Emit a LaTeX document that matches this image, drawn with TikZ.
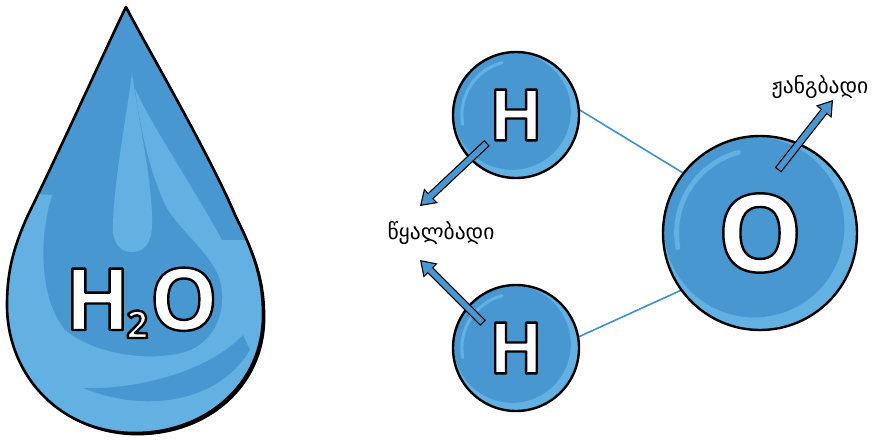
\documentclass[tikz,border=0pt]{standalone}
\usepackage{fontspec}
\usetikzlibrary{arrows.meta,backgrounds}

\newfontfamily\geofont{DejaVu Sans}
\newfontfamily\symfont{Open Sans}

\definecolor{waterblue}{RGB}{72,151,209}
\definecolor{waterlight}{RGB}{98,177,226}
\definecolor{bondblue}{RGB}{62,144,212}

% white letter with a black rim (fill and stroke the glyphs)
\newcommand\outl[1]{\special{pdf:literal direct 0 0 0 RG 2.4 w 1 j 2 Tr}#1\special{pdf:literal direct 0 Tr}}

% outline of the drop
\def\droppath{(126,433) .. controls (140,405) and (210,285) .. (235,225)
  .. controls (255,185) and (263,160) .. (263,125)
  .. controls (263,55) and (205,7) .. (135,7)
  .. controls (60,7) and (7,65) .. (7,135)
  .. controls (7,165) and (12,190) .. (28,225)
  .. controls (60,290) and (112,405) .. cycle}

\begin{document}
\begin{tikzpicture}[x=1pt, y=1pt,
  atom/.style={circle, fill=waterblue, inner sep=0pt},
  rim/.style={draw=black, line width=2.4pt},
  bond/.style={bondblue, line width=1.6pt},
  pointer/.style={black, line width=8pt, -{Triangle[length=15pt, width=20pt, line width=0pt]}},
  pointerfill/.style={waterblue, line width=5.6pt, shorten <=1.2pt, shorten >=2.2pt,
    -{Triangle[length=11.6pt, width=15.5pt, line width=0pt]}},
  element/.style={text=white, inner sep=0pt},
  caption/.style={font=\geofont\fontsize{21.5}{21.5}\selectfont, inner sep=0pt}]
\useasboundingbox (0,0) rectangle (880,440);

% the drop
\begin{scope}[shift={(2.4,-2.4)}]
  \fill[black] \droppath;
\end{scope}
\fill[waterblue] \droppath;
\begin{scope}
  \clip \droppath;
  % streak, right side and bottom
  \fill[waterlight] (135,352) .. controls (148,320) and (192,255) .. (222,200)
    -- (300,200) -- (300,-30) -- (-30,-30) -- (-30,250) -- (52,245)
    .. controls (38,200) and (40,140) .. (65,110)
    .. controls (95,85) and (150,78) .. (185,88)
    .. controls (215,97) and (228,130) .. (220,160)
    .. controls (212,185) and (185,205) .. (168,230)
    .. controls (152,260) and (140,310) .. cycle;
  % middle highlight
  \fill[waterlight] (132,367) .. controls (140,310) and (153,255) .. (152,215)
    .. controls (152,195) and (142,188) .. (132,188)
    .. controls (120,188) and (112,197) .. (113,215)
    .. controls (114,260) and (126,320) .. cycle;
  % darker band near the bottom
  \fill[waterblue] (83,52) .. controls (140,50) and (210,70) .. (243,105)
    -- (250,90) .. controls (220,40) and (150,25) .. (83,52);
\end{scope}
\draw[black, line width=2.6pt, line join=round] \droppath;

\node[element, anchor=base west, font=\symfont\bfseries\fontsize{86}{86}\selectfont] (formula) at (64.4,110)
  {\outl{H}\kern-4pt\raisebox{-8pt}{\fontsize{38}{38}\selectfont\outl{2}}\kern1.5pt\outl{O}};

% the molecule
\foreach \nm/\x/\y/\rad/\el/\fs in {h1/516/325/63/H/71, h2/516/92/63/H/71, ox/760/207/97/O/108}{
  \node[atom, minimum size={2*\rad*1pt}] (\nm) at (\x,\y) {};
  \begin{scope}
    \clip (\nm.center) circle (\rad);
    \fill[waterlight] (\nm.center) circle (\rad);
    \fill[waterblue, shift={(\nm.center)}] (-0.06*\rad,0.06*\rad) circle (0.93*\rad);
    \draw[waterlight, line width=0.05*\rad, line cap=round, shift={(\nm.center)}]
      (105:0.86*\rad) arc (105:190:0.86*\rad);
  \end{scope}
  \draw[rim] (\nm.center) circle (\rad);
  \node[element, font=\symfont\bfseries\fontsize{\fs}{\fs}\selectfont] (\nm-sym) at (\nm.center) {\outl{\el}};
}

\begin{scope}[on background layer]
  \draw[bond] (h1.5) -- (ox.142);
  \draw[bond] (h2.10) -- (ox.216);
\end{scope}

\node[caption] (hydro) at (441,207) {წყალბადი};
\node[caption] (oxy) at (820,353) {ჟანგბადი};

\coordinate (tailA) at (487,297); \coordinate (tipA) at (420,234);
\coordinate (tailB) at (483,117); \coordinate (tipB) at (420,180);
\coordinate (tailC) at (778,270); \coordinate (tipC) at (833,340);
\foreach \s/\e in {tailA/tipA, tailB/tipB, tailC/tipC}{
  \draw[pointer] (\s) -- (\e);
  \draw[pointerfill] (\s) -- (\e);
}
\end{tikzpicture}
\end{document}
